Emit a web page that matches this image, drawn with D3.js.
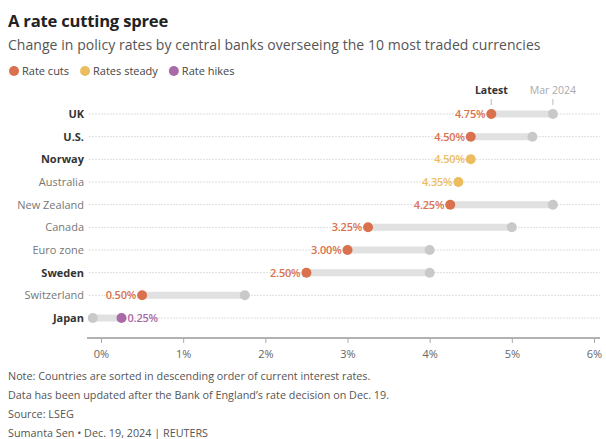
<!DOCTYPE html>
<html>
<head>
<meta charset="utf-8">
<script src="https://cdn.jsdelivr.net/npm/d3@7"></script>
<style>
  body { margin: 0; background: #fff; }
  svg { display: block; font-family: "Open Sans", "Noto Sans", sans-serif; }
</style>
</head>
<body>
<div id="chart"></div>
<script>
// Policy rates: latest vs March 2024
const countries = ['UK', 'U.S.', 'Norway', 'Australia', 'New Zealand', 'Canada', 'Euro zone', 'Sweden', 'Switzerland', 'Japan'];
const latest = [4.75, 4.50, 4.50, 4.35, 4.25, 3.25, 3.00, 2.50, 0.50, 0.25];
const mar2024 = [5.50, 5.25, 4.50, 4.35, 5.50, 5.00, 4.00, 4.00, 1.75, -0.10];
const status = ['cut', 'cut', 'steady', 'steady', 'cut', 'cut', 'cut', 'cut', 'cut', 'hike'];
const boldRows = ['UK', 'U.S.', 'Norway', 'Sweden', 'Japan'];
const xTicks = [0, 1, 2, 3, 4, 5, 6];
const legendItems = [
  { key: 'cut', label: 'Rate cuts' },
  { key: 'steady', label: 'Rates steady' },
  { key: 'hike', label: 'Rate hikes' }
];
const notes = [
  'Note: Countries are sorted in descending order of current interest rates.',
  'Data has been updated after the Bank of England\u2019s rate decision on Dec. 19.',
  'Source: LSEG',
  'Sumanta Sen \u2022 Dec. 19, 2024 | REUTERS'
];

const colors = { cut: '#d9714e', steady: '#ebbd5f', hike: '#a96aa8' };

const width = 606, height = 439;
const margin = { top: 103, right: 6, bottom: 101, left: 87 };

const rows = countries.map((c, i) => ({
  country: c, latest: latest[i], prev: mar2024[i], status: status[i]
}));

const svg = d3.select('#chart').append('svg')
  .attr('width', width)
  .attr('height', height);

// title block
svg.append('text')
  .attr('x', 8).attr('y', 27)
  .attr('font-size', 16.6).attr('font-weight', 700).attr('fill', '#222')
  .attr('letter-spacing', -0.2)
  .text('A rate cutting spree');

svg.append('text')
  .attr('x', 8).attr('y', 50)
  .attr('font-size', 14).attr('fill', '#555')
  .attr('letter-spacing', 0.05)
  .text('Change in policy rates by central banks overseeing the 10 most traded currencies');

// legend
let lx = 14;
const legend = svg.append('g');
legendItems.forEach(item => {
  legend.append('circle')
    .attr('cx', lx).attr('cy', 71).attr('r', 5)
    .attr('fill', colors[item.key]);
  const t = legend.append('text')
    .attr('x', lx + 8).attr('y', 75)
    .attr('font-size', 11).attr('fill', '#444')
    .text(item.label);
  lx += 8 + t.node().getComputedTextLength() + 16;
});

const x = d3.scaleLinear()
  .domain([0, 6])
  .range([101, 594]);

const y = d3.scalePoint()
  .domain(countries)
  .range([114, 318]);

const g = svg.append('g');

// row gridlines
g.selectAll('.grid')
  .data(countries)
  .enter()
  .append('line')
  .attr('x1', margin.left + 2)
  .attr('x2', width - margin.right)
  .attr('y1', d => y(d))
  .attr('y2', d => y(d))
  .attr('stroke', '#d6d6d6')
  .attr('stroke-width', 0.8)
  .attr('stroke-dasharray', '2,1');

// country labels
g.selectAll('.country')
  .data(countries)
  .enter()
  .append('text')
  .attr('x', margin.left - 3)
  .attr('y', d => y(d) + 4)
  .attr('text-anchor', 'end')
  .attr('font-size', 11)
  .attr('font-weight', d => boldRows.includes(d) ? 700 : 400)
  .attr('fill', d => boldRows.includes(d) ? '#333' : '#777')
  .text(d => d);

// connecting bars
g.selectAll('.bar')
  .data(rows.filter(d => d.latest !== d.prev))
  .enter()
  .append('line')
  .attr('x1', d => x(d.latest))
  .attr('x2', d => x(d.prev))
  .attr('y1', d => y(d.country))
  .attr('y2', d => y(d.country))
  .attr('stroke', '#e1e1e1')
  .attr('stroke-width', 7);

// March 2024 dots
g.selectAll('.prev')
  .data(rows.filter(d => d.latest !== d.prev))
  .enter()
  .append('circle')
  .attr('cx', d => x(d.prev))
  .attr('cy', d => y(d.country))
  .attr('r', 5)
  .attr('fill', '#c9c9c9');

// latest dots
g.selectAll('.latest')
  .data(rows)
  .enter()
  .append('circle')
  .attr('cx', d => x(d.latest))
  .attr('cy', d => y(d.country))
  .attr('r', 5)
  .attr('fill', d => colors[d.status]);

// value labels
g.selectAll('.val')
  .data(rows)
  .enter()
  .append('text')
  .attr('x', d => d.status === 'hike' ? x(d.latest) + 6 : x(d.latest) - 6)
  .attr('y', d => y(d.country) + 4)
  .attr('text-anchor', d => d.status === 'hike' ? 'start' : 'end')
  .attr('font-size', 11)
  .attr('font-weight', 600)
  .attr('letter-spacing', -0.2)
  .attr('fill', d => colors[d.status])
  .text(d => d.latest.toFixed(2) + '%');

// column headers for the first row
const first = rows[0];
const headers = [
  { v: first.latest, label: 'Latest', bold: true },
  { v: first.prev, label: 'Mar 2024', bold: false }
];
g.selectAll('.hdr')
  .data(headers)
  .enter()
  .append('text')
  .attr('x', d => x(d.v))
  .attr('y', 94)
  .attr('text-anchor', 'middle')
  .attr('font-size', 10.5)
  .attr('font-weight', d => d.bold ? 700 : 400)
  .attr('fill', d => d.bold ? '#333' : '#aaa')
  .text(d => d.label);
g.selectAll('.hdrTick')
  .data(headers)
  .enter()
  .append('line')
  .attr('x1', d => x(d.v)).attr('x2', d => x(d.v))
  .attr('y1', 99).attr('y2', 105)
  .attr('stroke', '#aaa')
  .attr('stroke-width', 0.8);

// x axis
const axis = svg.append('g')
  .attr('transform', 'translate(0,338)')
  .call(d3.axisBottom(x).tickValues(xTicks).tickSize(5).tickFormat(d => d + '%'));
axis.select('.domain')
  .attr('d', `M${margin.left},0H${width - margin.right}`)
  .attr('stroke', '#666')
  .attr('stroke-width', 1.2);
axis.selectAll('.tick line').attr('stroke', '#aaa');
axis.selectAll('.tick text')
  .attr('y', 12)
  .attr('font-size', 11)
  .attr('fill', '#666')
  .attr('font-family', '"Open Sans", sans-serif');

// notes
svg.selectAll('.note')
  .data(notes)
  .enter()
  .append('text')
  .attr('x', 8)
  .attr('y', (d, i) => 380 + i * 19)
  .attr('font-size', 10.8)
  .attr('fill', '#555')
  .text(d => d);
</script>
</body>
</html>
